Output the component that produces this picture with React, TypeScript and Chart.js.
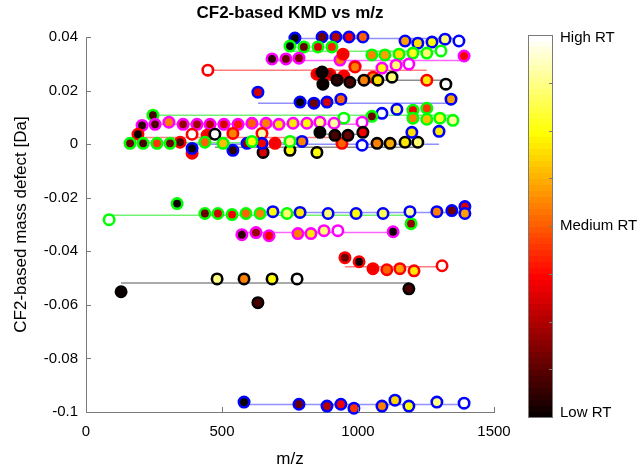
import React, { useEffect, useRef } from "react";
import { Chart, registerables } from "chart.js";

Chart.register(...registerables);

// ---- data: m/z, CF2-based KMD, relative retention time (0 = low, 1 = high), line level ----
const blue1Mz = [768, 868, 919, 967, 1018, 1173, 1220, 1272, 1320, 1371];
const blue1Kmd = [0.0396, 0.04, 0.04, 0.04, 0.04, 0.0385, 0.0377, 0.0381, 0.0392, 0.0385];
const blue1Rt = [0.0, 0.15, 0.25, 0.35, 0.5, 0.6, 0.7, 0.75, 0.85, 1.0];
const blue1Line = 0.0394;

const green1Mz = [750, 801, 853, 904, 1051, 1099, 1151, 1202, 1253, 1305];
const green1Kmd = [0.0366, 0.0363, 0.0363, 0.0363, 0.0333, 0.0333, 0.0336, 0.034, 0.034, 0.0348];
const green1Rt = [0.0, 0.15, 0.3, 0.42, 0.55, 0.6, 0.7, 0.78, 0.85, 1.0];
const green1Line = 0.0347;

const magenta1Mz = [684, 735, 783, 934, 989, 1088, 1140, 1187, 1390];
const magenta1Kmd = [0.0318, 0.0318, 0.0321, 0.0314, 0.0291, 0.0284, 0.0295, 0.0299, 0.0329];
const magenta1Rt = [0.05, 0.15, 0.18, 0.55, 0.5, 0.75, 0.85, 1.0, 0.35];
const magenta1Line = 0.0312;

const red1Mz = [448, 849, 897, 948, 1055, 1253, 945, 989];
const red1Kmd = [0.0276, 0.0261, 0.0261, 0.0254, 0.025, 0.0239, 0.0336, 0.0288];
const red1Rt = [1.0, 0.3, 0.25, 0.35, 0.55, 0.72, 0.35, 0.55];
const red1Line = 0.0276;

const black1Mz = [868, 871, 923, 970, 1022, 1073, 1125, 1323];
const black1Kmd = [0.0269, 0.0224, 0.0239, 0.0231, 0.0239, 0.0239, 0.025, 0.0224];
const black1Rt = [0.0, 0.0, 0.05, 0.1, 0.55, 0.7, 0.85, 1.0];
const black1Line = 0.0239;

const blue2Mz = [632, 787, 838, 886, 937, 1342, 1088, 1143];
const blue2Kmd = [0.0194, 0.0157, 0.0153, 0.0157, 0.0168, 0.0168, 0.0115, 0.013];
const blue2Rt = [0.3, 0.0, 0.15, 0.3, 0.5, 0.6, 1.0, 0.85];
const blue2Line = 0.0153;

const green2Mz = [246, 948, 1051, 1202, 1253, 1202, 1253, 1301, 1349];
const green2Kmd = [0.0108, 0.0097, 0.0104, 0.0127, 0.0134, 0.0097, 0.0093, 0.0097, 0.0089];
const green2Rt = [0.1, 1.0, 0.15, 0.35, 0.45, 0.55, 0.65, 0.8, 0.9];
const green2Line = 0.0108;

const magenta2Mz = [206, 254, 305, 357, 408, 456, 507, 559, 610, 662, 709, 761, 812, 860, 912, 1015];
const magenta2Kmd = [0.007, 0.0074, 0.0082, 0.0074, 0.0074, 0.0074, 0.0074, 0.0074, 0.0078, 0.0078, 0.0074, 0.0078, 0.0078, 0.0082, 0.0078, 0.0082];
const magenta2Rt = [0.05, 0.1, 0.55, 0.2, 0.22, 0.25, 0.3, 0.4, 0.5, 0.55, 0.7, 0.72, 0.75, 0.85, 0.9, 1.0];
const magenta2Line = 0.0074;

const red2Mz = [191, 346, 390, 445, 540, 647, 695, 941, 390];
const red2Kmd = [0.0037, 0.0007, 0.0037, 0.0033, 0.004, 0.004, 0.0003, 0.0003, -0.0034];
const red2Rt = [0.0, 0.1, 1.0, 0.35, 0.55, 0.92, 0.35, 0.5, 0.35];
const red2Line = 0.0025;

const black3Mz = [860, 915, 963, 1018];
const black3Kmd = [0.0044, 0.0033, 0.0033, 0.0044];
const black3Rt = [0.0, 0.1, 0.15, 0.35];
const black3Line = 0.0037;

const black2Mz = [474, 651, 750, 849, 1070, 1118, 1173, 1220];
const black2Kmd = [0.0037, -0.0031, -0.0023, -0.0031, 0.0003, 0.0003, 0.0007, 0.0007];
const black2Rt = [1.0, 0.3, 0.75, 0.75, 0.55, 0.62, 0.72, 0.85];
const black2Line = -0.0012;

const green3Mz = [162, 210, 261, 309, 437, 504, 610, 750];
const green3Kmd = [0.0003, 0.0003, 0.0003, 0.0003, 0.0007, 0.0003, 0.001, 0.001];
const green3Rt = [0.15, 0.1, 0.45, 0.15, 0.5, 0.65, 0.75, 0.85];
const green3Line = 0.0005;

const blue3Mz = [390, 540, 592, 647, 794, 1015, 1198, 1298];
const blue3Kmd = [-0.0016, -0.0023, 0.0003, 0.0003, 0.001, -0.0004, 0.0044, 0.0048];
const blue3Rt = [0.0, 0.05, 0.2, 0.35, 0.55, 1.0, 0.7, 0.72];
const blue3Line = 0.0;

const green5Mz = [85, 335, 437, 485, 537, 588, 640, 739, 1195];
const green5Kmd = [-0.0282, -0.0222, -0.0259, -0.0259, -0.0263, -0.0259, -0.0259, -0.0259, -0.0297];
const green5Rt = [1.0, 0.0, 0.15, 0.3, 0.35, 0.5, 0.55, 0.85, 0.2];
const green5Line = -0.0265;

const blue5Mz = [687, 787, 890, 993, 1092, 1191, 1290, 1345, 1393, 1393];
const blue5Kmd = [-0.0252, -0.0255, -0.0259, -0.0259, -0.0259, -0.0252, -0.0252, -0.0248, -0.0233, -0.0259];
const blue5Rt = [0.75, 0.72, 0.85, 0.75, 0.82, 0.9, 0.55, 0.15, 0.3, 0.6];
const blue5Line = -0.0255;

const magenta3Mz = [573, 625, 673, 779, 827, 875, 926, 1129];
const magenta3Kmd = [-0.0338, -0.033, -0.0342, -0.0334, -0.0334, -0.0323, -0.0323, -0.0327];
const magenta3Rt = [0.05, 0.2, 0.35, 0.55, 0.72, 0.85, 1.0, 0.0];
const magenta3Line = -0.033;

const red3Mz = [952, 1004, 1055, 1106, 1154, 1206, 1309];
const red3Kmd = [-0.0424, -0.0439, -0.0465, -0.0469, -0.0465, -0.0473, -0.0454];
const red3Rt = [0.15, 0.0, 0.35, 0.5, 0.6, 0.72, 1.0];
const red3Line = -0.0458;

const black4Mz = [129, 482, 581, 684, 776, 1187, 632];
const black4Kmd = [-0.0551, -0.0503, -0.0503, -0.0503, -0.0503, -0.054, -0.0592];
const black4Rt = [0.0, 0.88, 0.55, 0.75, 1.0, 0.1, 0.1];
const black4Line = -0.0518;

const blue6Mz = [581, 783, 886, 937, 985, 1088, 1136, 1187, 1290, 1390];
const blue6Kmd = [-0.0963, -0.0971, -0.0978, -0.0971, -0.0986, -0.0978, -0.0956, -0.0978, -0.0963, -0.0967];
const blue6Rt = [0.0, 0.15, 0.25, 0.35, 0.45, 0.55, 0.68, 0.75, 0.88, 1.0];
const blue6Line = -0.0972;

const xTicks = [0, 500, 1000, 1500];
const colorbarLabels = ["Low RT", "Medium RT", "High RT"];

const EDGE: Record<string, string> = {
  blue: "#0000ff",
  green: "#00ff00",
  magenta: "#ff00ff",
  red: "#ff0000",
  black: "#000000",
};
const LINE: Record<string, string> = {
  blue: "rgba(70,70,255,0.6)",
  green: "rgba(0,230,0,0.55)",
  magenta: "rgba(255,0,255,0.6)",
  red: "rgba(255,0,0,0.5)",
  black: "rgba(0,0,0,0.45)",
};

function hot(t: number): string {
  const i = 1 + Math.round(Math.max(0, Math.min(1, t)) * 63);
  const r = Math.min(1, i / 24);
  const g = Math.max(0, Math.min(1, (i - 24) / 24));
  const b = Math.max(0, Math.min(1, (i - 48) / 16));
  return `rgb(${Math.round(r * 255)},${Math.round(g * 255)},${Math.round(b * 255)})`;
}

const series = [
  { c: "blue", mz: blue1Mz, kmd: blue1Kmd, rt: blue1Rt, line: blue1Line },
  { c: "green", mz: green1Mz, kmd: green1Kmd, rt: green1Rt, line: green1Line },
  { c: "magenta", mz: magenta1Mz, kmd: magenta1Kmd, rt: magenta1Rt, line: magenta1Line },
  { c: "red", mz: red1Mz, kmd: red1Kmd, rt: red1Rt, line: red1Line },
  { c: "black", mz: black1Mz, kmd: black1Kmd, rt: black1Rt, line: black1Line },
  { c: "blue", mz: blue2Mz, kmd: blue2Kmd, rt: blue2Rt, line: blue2Line },
  { c: "green", mz: green2Mz, kmd: green2Kmd, rt: green2Rt, line: green2Line },
  { c: "magenta", mz: magenta2Mz, kmd: magenta2Kmd, rt: magenta2Rt, line: magenta2Line },
  { c: "red", mz: red2Mz, kmd: red2Kmd, rt: red2Rt, line: red2Line },
  { c: "black", mz: black3Mz, kmd: black3Kmd, rt: black3Rt, line: black3Line },
  { c: "black", mz: black2Mz, kmd: black2Kmd, rt: black2Rt, line: black2Line },
  { c: "blue", mz: blue3Mz, kmd: blue3Kmd, rt: blue3Rt, line: blue3Line },
  { c: "green", mz: green3Mz, kmd: green3Kmd, rt: green3Rt, line: green3Line },
  { c: "green", mz: green5Mz, kmd: green5Kmd, rt: green5Rt, line: green5Line },
  { c: "blue", mz: blue5Mz, kmd: blue5Kmd, rt: blue5Rt, line: blue5Line },
  { c: "magenta", mz: magenta3Mz, kmd: magenta3Kmd, rt: magenta3Rt, line: magenta3Line },
  { c: "red", mz: red3Mz, kmd: red3Kmd, rt: red3Rt, line: red3Line },
  { c: "black", mz: black4Mz, kmd: black4Kmd, rt: black4Rt, line: black4Line },
  { c: "blue", mz: blue6Mz, kmd: blue6Kmd, rt: blue6Rt, line: blue6Line },
];

const FONT = "Arial, 'Liberation Sans', sans-serif";
const AXIS_GRAY = "#7a7a7a";

const decorPlugin = {
  id: "decor",
  afterDraw(chart: any) {
    const { ctx, chartArea, scales } = chart;
    const { left, right, top, bottom } = chartArea;
    ctx.save();
    // inward tick marks
    ctx.strokeStyle = AXIS_GRAY;
    ctx.lineWidth = 1;
    scales.y.ticks.forEach((t: any) => {
      const y = Math.round(scales.y.getPixelForValue(t.value)) + 0.5;
      ctx.beginPath();
      ctx.moveTo(left, y);
      ctx.lineTo(left + 5, y);
      ctx.stroke();
    });
    scales.x.ticks.forEach((t: any) => {
      const x = Math.round(scales.x.getPixelForValue(t.value)) + 0.5;
      ctx.beginPath();
      ctx.moveTo(x, bottom);
      ctx.lineTo(x, bottom - 5);
      ctx.stroke();
    });

    // titles
    ctx.fillStyle = "#000";
    ctx.textAlign = "center";
    ctx.textBaseline = "middle";
    ctx.font = `bold 17px ${FONT}`;
    ctx.fillText("CF2-based KMD vs m/z", (left + right) / 2, 13);
    ctx.font = `17px ${FONT}`;
    ctx.fillText("m/z", (left + right) / 2, 459);
    ctx.save();
    ctx.translate(21, (top + bottom) / 2);
    ctx.rotate(-Math.PI / 2);
    ctx.fillText("CF2-based mass defect [Da]", 0, 0);
    ctx.restore();

    // colorbar
    const cbL = 528, cbW = 24, cbT = 35, cbB = 417;
    const n = 64;
    const h = (cbB - cbT) / n;
    for (let i = 0; i < n; i++) {
      ctx.fillStyle = hot(i / (n - 1));
      const y0 = cbB - (i + 1) * h;
      ctx.fillRect(cbL, Math.floor(y0), cbW, Math.ceil(h) + 1);
    }
    ctx.strokeStyle = AXIS_GRAY;
    ctx.strokeRect(cbL + 0.5, cbT + 0.5, cbW, cbB - cbT);
    for (let k = 1; k < 8; k++) {
      const y = Math.round(cbB - (k * (cbB - cbT)) / 8) + 0.5;
      ctx.beginPath();
      ctx.moveTo(cbL + cbW, y);
      ctx.lineTo(cbL + cbW - 3, y);
      ctx.stroke();
    }
    ctx.fillStyle = "#000";
    ctx.textAlign = "left";
    ctx.font = `15px ${FONT}`;
    colorbarLabels.forEach((lab, k) => {
      const y = cbB - (k * (cbB - cbT)) / 2;
      ctx.fillText(lab, cbL + cbW + 8, y + (k === 0 ? -4 : k === 2 ? 3 : 0));
    });
    ctx.restore();
  },
};

export default function App() {
  const ref = useRef<HTMLCanvasElement | null>(null);
  useEffect(() => {
    document.body.style.margin = "0";
    const canvas = ref.current;
    if (!canvas) return;

    const lineSets = series.map((s) => {
      const lo = Math.min(...s.mz);
      const hi = Math.max(...s.mz);
      return {
        type: "line" as const,
        data: [
          { x: lo, y: s.line },
          { x: hi, y: s.line },
        ],
        borderColor: LINE[s.c],
        borderWidth: 1.5,
        pointRadius: 0,
        fill: false,
        order: 10,
        clip: false as any,
      };
    });
    const pointSets = series.map((s) => ({
      type: "scatter" as const,
      data: s.mz.map((m, i) => ({ x: m, y: s.kmd[i] })),
      pointBackgroundColor: s.rt.map((r) => hot(r)),
      pointBorderColor: EDGE[s.c],
      pointBorderWidth: 2.6,
      pointRadius: 5.2,
      showLine: false,
      order: 0,
      clip: false as any,
    }));

    const chart = new Chart(canvas, {
      type: "scatter",
      data: { datasets: [...pointSets.reverse(), ...lineSets] as any },
      options: {
        responsive: false,
        animation: false,
        events: [],
        layout: { padding: { left: 0, right: 149, top: 37, bottom: 0 } },
        plugins: { legend: { display: false }, tooltip: { enabled: false }, title: { display: false } },
        scales: {
          x: {
            type: "linear",
            min: 0,
            max: 1500,
            afterBuildTicks: (s: any) => {
              s.ticks = xTicks.map((v) => ({ value: v }));
            },
            ticks: {
              color: "#000",
              font: { family: FONT, size: 15 },
              padding: 11,
              maxRotation: 0,
              callback: (v: any) => String(v),
            },
            grid: { display: false, drawTicks: false },
            border: { display: true, color: AXIS_GRAY, width: 1 },
            afterFit: (s: any) => {
              s.height = 55;
            },
          },
          y: {
            type: "linear",
            min: -0.1,
            max: 0.04,
            ticks: {
              stepSize: 0.02,
              color: "#000",
              font: { family: FONT, size: 15 },
              padding: 8,
              callback: (v: any) => {
                const n = Math.round(Number(v) * 100) / 100;
                return n === 0 ? "0" : String(n);
              },
            },
            grid: { display: false, drawTicks: false },
            border: { display: true, color: AXIS_GRAY, width: 1 },
            afterFit: (s: any) => {
              s.width = 86;
            },
          },
        },
      },
      plugins: [decorPlugin],
    });
    return () => chart.destroy();
  }, []);

  return (
    <div style={{ position: "absolute", left: 0, top: 0, width: 643, height: 467, background: "#fff" }}>
      <canvas ref={ref} width={643} height={467} />
    </div>
  );
}
